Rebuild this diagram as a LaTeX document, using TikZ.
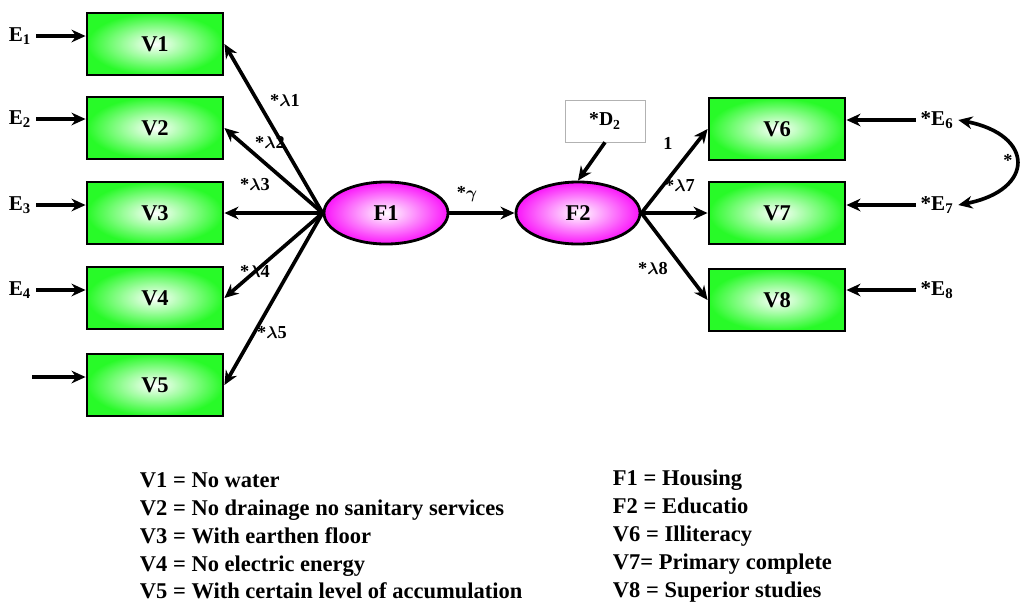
\documentclass[tikz,border=0pt]{standalone}
\usepackage{amsmath}
\usepackage{fontspec}
\setmainfont{LiberationSerif}[Extension=.ttf,UprightFont=*-Regular,BoldFont=*-Bold,ItalicFont=*-Italic,BoldItalicFont=*-BoldItalic]
\usetikzlibrary{arrows.meta,shapes.geometric}
\definecolor{boxgreen}{RGB}{40,250,40}
\definecolor{latmag}{RGB}{250,20,250}

\begin{document}
\begin{tikzpicture}[x=0.025cm,y=-0.025cm,font=\bfseries]
				\useasboundingbox (0,0) rectangle (1023,607);
				% observed variables
				\begin{scope}[every node/.style={rectangle,draw,line width=2pt,minimum width=3.4cm,minimum height=1.55cm,inner color=white,outer color=boxgreen,font=\bfseries\fontsize{16}{18}\selectfont}]
				\node (V1) at (155,44) {V1};
				\node (V2) at (155,128) {V2};
				\node (V3) at (155,213) {V3};
				\node (V4) at (155,298) {V4};
				\node (V5) at (155,385) {V5};
				\node (V6) at (777,129) {V6};
				\node (V7) at (777,213) {V7};
				\node (V8) at (777,300) {V8};
				\end{scope}
				% latent factors
				\begin{scope}[every node/.style={ellipse,draw,line width=2pt,minimum width=3.1cm,minimum height=1.55cm,inner color=white,outer color=latmag,font=\bfseries\fontsize{16}{18}\selectfont}]
				\node (F1) at (386,213) {F1};
				\node (F2) at (578,213) {F2};
				\end{scope}
				\node[draw=black!30,minimum width=2cm,minimum height=1.05cm,font=\bfseries\fontsize{14}{16}\selectfont] (D2) at (605,121) {*D$_{\mathbf 2}$};
				% errors
				\begin{scope}[every node/.style={font=\bfseries\fontsize{15}{17}\selectfont}]
				\node (E1) at (20,36) {E$_{\mathbf 1}$};
				\node (E2) at (20,119) {E$_{\mathbf 2}$};
				\node (E3) at (20,205) {E$_{\mathbf 3}$};
				\node (E4) at (20,290) {E$_{\mathbf 4}$};
				\node (E6) at (937,120) {*E$_{\mathbf 6}$};
				\node (E7) at (937,205) {*E$_{\mathbf 7}$};
				\node (E8) at (937,290) {*E$_{\mathbf 8}$};
				\end{scope}
				\coordinate (e5) at (32,377);
				\begin{scope}[>={Stealth[length=10pt,width=9pt]},
				every edge/.style={draw=black,line width=2.6pt}]
				\path [->] (E1) edge (E1 -| V1.west);
				\path [->] (E2) edge (E2 -| V2.west);
				\path [->] (E3) edge (E3 -| V3.west);
				\path [->] (E4) edge (E4 -| V4.west);
				\path [->] (e5) edge (e5 -| V5.west);
				\path [->] (F1.west) edge (V1.east);
				\path [->] (F1.west) edge (V2.east);
				\path [->] (F1.west) edge (V3.east);
				\path [->] (F1.west) edge (V4.east);
				\path [->] (F1.west) edge (V5.east);
				\path [->] (F1) edge (F2);
				\path [->] (D2.south) edge (F2.north);
				\path [->] (F2.east) edge (V6.west);
				\path [->] (F2.east) edge (V7.west);
				\path [->] (F2.east) edge (V8.west);
				\path [->] (E6) edge (E6 -| V6.east);
				\path [->] (E7) edge (E7 -| V7.east);
				\path [->] (E8) edge (E8 -| V8.east);
				\draw [<->,line width=2.6pt] (E6.east) .. controls (1035,135) and (1035,190) .. (E7.east);
				\end{scope}
				% loadings
				\begin{scope}[every node/.style={font=\bfseries\fontsize{13}{15}\selectfont}]
				\node (l1) at (285,100) {*$\boldsymbol\lambda$1};
				\node (l2) at (270,142) {*$\boldsymbol\lambda$2};
				\node (l3) at (255,185) {*$\boldsymbol\lambda$3};
				\node (l4) at (255,271) {*$\boldsymbol\lambda$4};
				\node (l5) at (272,333) {*$\boldsymbol\lambda$5};
				\node (g) at (467,194) {*$\boldsymbol\gamma$};
				\node (l6) at (668,143) {1};
				\node (l7) at (680,185) {*$\boldsymbol\lambda$7};
				\node (l8) at (653,269) {*$\boldsymbol\lambda$8};
				\node (c67) at (1008,160) {*};
				\end{scope}
				% legend
				\node[anchor=west,align=left,font=\bfseries\fontsize{16}{19.8}\selectfont] (legL) at (135,536) {V1 = No water\\V2 = No drainage no sanitary services\\V3 = With earthen floor\\V4 = No electric energy\\V5 = With certain level of accumulation};
				\node[anchor=west,align=left,font=\bfseries\fontsize{16}{19.8}\selectfont] (legR) at (608,536) {F1 = Housing\\F2 = Educatio\\V6 = Illiteracy\\V7= Primary complete\\V8 = Superior studies};
				\end{tikzpicture}
\end{document}
